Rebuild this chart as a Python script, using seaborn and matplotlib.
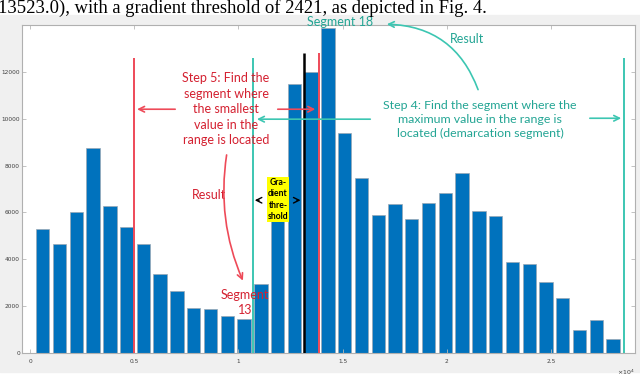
import numpy as np
import seaborn as sns
import matplotlib.pyplot as plt
from matplotlib.patches import Rectangle

# histogram counts, one per segment (35 segments)
counts = [5300, 4670, 6020, 8740, 6280, 5370, 4670, 3360, 2650, 1940,
          1880, 1570, 1445, 2960, 6100, 11470, 12000, 13890, 9395, 7475,
          5910, 6350, 5710, 6405, 6850, 7670, 6080, 5850, 3885, 3790,
          3050, 2365, 985, 1425, 600]
first_center = 609
bin_width = 805
centers = first_center + bin_width * np.arange(len(counts))

x_ticks = [0, 5000, 10000, 15000, 20000, 25000]
x_tick_labels = ["0", "0.5", "1", "1.5", "2", "2.5"]
y_ticks = [0, 2000, 4000, 6000, 8000, 10000, 12000]

# marker lines
min_search_start = 5005
min_search_end = 13870
range_start = 10715
gradient_threshold = 2421
threshold_pos = range_start + gradient_threshold
range_end = 28500

blue = "#0072bd"
red_line = "#ee4a58"
red_text = "#d42030"
teal_line = "#3cc6b2"
teal_text = "#23a594"
lato = ["Lato", "DejaVu Sans"]

fig = plt.figure(figsize=(6.4, 3.82), dpi=100, facecolor="white")
fig.patches.append(Rectangle((0, 1 - 372 / 382), 1, (372 - 15) / 382,
                             transform=fig.transFigure, color="#f0f0f0", zorder=-10))
ax = fig.add_axes([22 / 640, 1 - 353 / 382, 613 / 640, 328 / 382])
ax.set_facecolor("white")

sns.barplot(x=centers, y=counts, native_scale=True, color=blue, saturation=1,
            width=0.8, edgecolor="#9aa8b4", linewidth=0.5, errorbar=None, ax=ax)

ax.set_xlim(-384, 29030)
ax.set_ylim(0, 14000)
ax.set_xticks(x_ticks, x_tick_labels)
ax.set_yticks(y_ticks)
ax.tick_params(direction="in", length=3, width=0.6, color="#b8b8b8",
               labelsize=4.2, labelcolor="#404040", top=True, right=True, pad=1.5)
ax.tick_params(axis="x", pad=4)
for s in ax.spines.values():
    s.set_color("#b0b0b0")
    s.set_linewidth(0.8)
ax.set_xlabel("")
ax.set_ylabel("")
ax.text(1.0, -0.045, r"$\times10^4$", transform=ax.transAxes, fontsize=4.5,
        color="#404040", ha="right", va="top")

# vertical marker lines
ax.vlines(min_search_start, 0, 12580, color=red_line, lw=1.4, zorder=5)
ax.vlines(min_search_end, 0, 12800, color=red_line, lw=1.4, zorder=5)
ax.vlines(range_start, 0, 12580, color=teal_line, lw=1.4, zorder=5)
ax.vlines(range_end, 0, 12580, color=teal_line, lw=1.4, zorder=5)
ax.vlines(threshold_pos, 0, 12800, color="black", lw=1.8, zorder=5)

# step 5 annotation (red)
ax.text(9405, 10405, "Step 5: Find the\nsegment where\nthe smallest\nvalue in the\nrange is located",
        ha="center", va="center", color=red_text, fontsize=9, family=lato,
        linespacing=1.35, zorder=6)
arrow_red = dict(arrowstyle="->", color=red_line, lw=1.2)
ax.annotate("", xy=(min_search_start, 10405), xytext=(7100, 10405), arrowprops=arrow_red, zorder=6)
ax.annotate("", xy=(13820, 10405), xytext=(11755, 10405), arrowprops=arrow_red, zorder=6)
ax.text(8590, 6735, "Result", ha="center", va="center", color=red_text,
        fontsize=9, family=lato, zorder=6)
ax.annotate("", xy=(10270, 2980), xytext=(9455, 8570),
            arrowprops=dict(arrowstyle="->", color=red_line, lw=1.2,
                            connectionstyle="arc3,rad=0.15"), zorder=6)
ax.text(10315, 2150, "Segment\n13", ha="center", va="center", color=red_text,
        fontsize=9, family=lato, linespacing=1.3, zorder=6)

# step 4 annotation (teal)
ax.text(21595, 9980, "Step 4: Find the segment where the\nmaximum value in the range is\nlocated (demarcation segment)",
        ha="center", va="center", color=teal_text, fontsize=8.9, family=lato,
        linespacing=1.35, zorder=6)
arrow_teal = dict(arrowstyle="->", color=teal_line, lw=1.2)
ax.annotate("", xy=(range_start + 40, 9980), xytext=(16460, 9980), arrowprops=arrow_teal, zorder=6)
ax.annotate("", xy=(range_end, 10020), xytext=(26730, 10020), arrowprops=arrow_teal, zorder=6)
ax.text(20970, 13395, "Result", ha="center", va="center", color=teal_text,
        fontsize=9, family=lato, zorder=6)
ax.annotate("", xy=(16990, 14035), xytext=(21545, 11130), annotation_clip=False,
            arrowprops=dict(arrowstyle="->", color=teal_line, lw=1.2,
                            connectionstyle="arc3,rad=0.35"), zorder=6)
ax.text(14875, 14120, "Segment 18", ha="center", va="center", color=teal_text,
        fontsize=9, family=lato, zorder=6, clip_on=False)

# gradient threshold label
ax.text(11900, 6560, "Gra-\ndient\nthre-\nshold", ha="center", va="center",
        fontsize=6.2, fontweight="bold", family=lato, linespacing=1.35, zorder=7,
        bbox=dict(facecolor="#ffff00", edgecolor="none", pad=0.8))
arrow_black = dict(arrowstyle="->", color="black", lw=1.0)
ax.annotate("", xy=(10650, 6520), xytext=(11130, 6520), arrowprops=arrow_black, zorder=7)
ax.annotate("", xy=(threshold_pos - 20, 6520), xytext=(12670, 6520), arrowprops=arrow_black, zorder=7)

# caption fragment above the figure
fig.text(-2 / 640, 1 - 13 / 382, "13523.0), with a gradient threshold of 2421, as depicted in Fig. 4.",
         family="Liberation Serif", fontsize=13.4, color="black", ha="left", va="baseline")

fig.savefig("out.png", dpi=100, facecolor="white")
